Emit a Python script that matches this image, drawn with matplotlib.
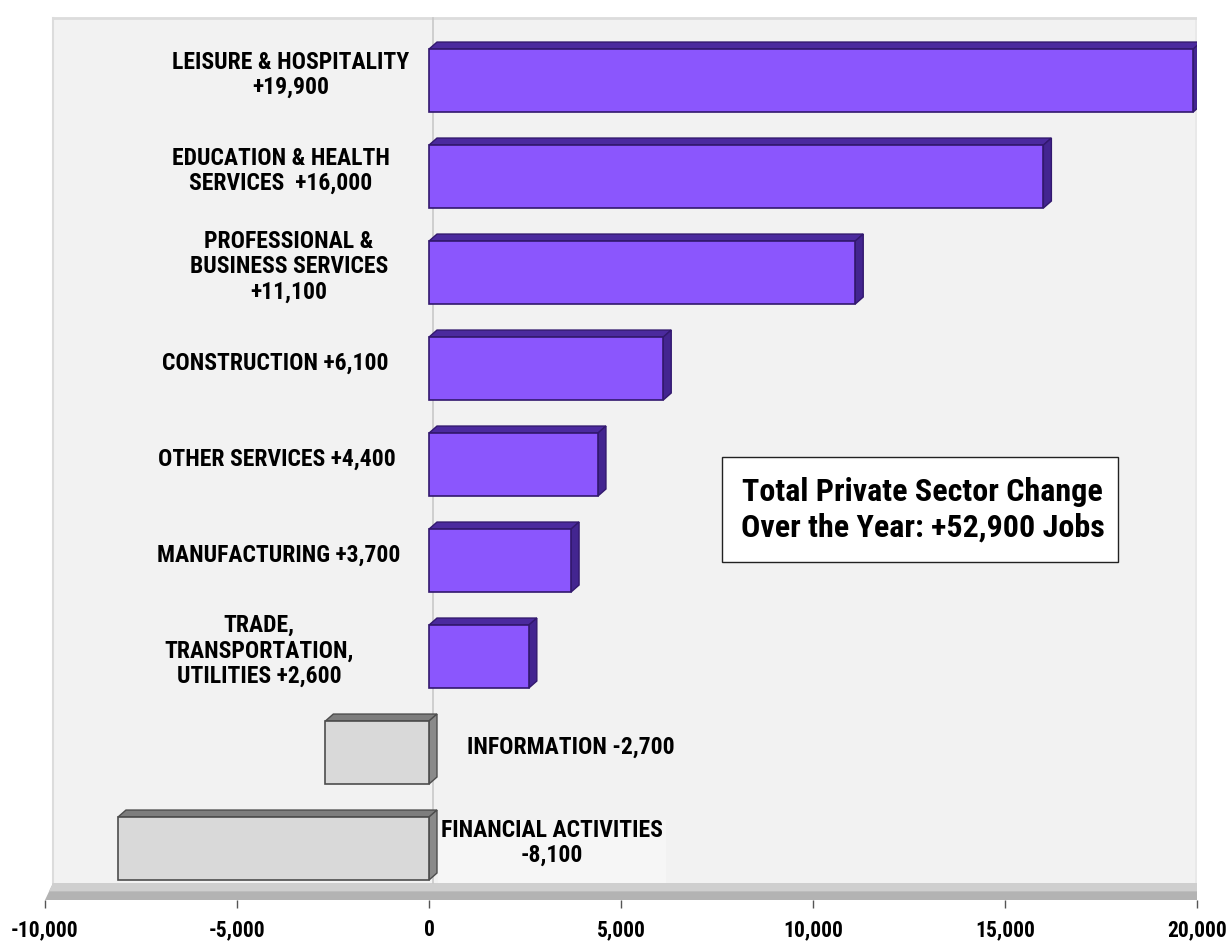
import matplotlib.pyplot as plt
from matplotlib import font_manager
from matplotlib.patches import Polygon, Rectangle

# pick a narrow bold sans that is installed
installed = {f.name for f in font_manager.fontManager.ttflist}
narrow = next(f for f in ['Liberation Sans Narrow', 'Arial Narrow', 'Roboto Condensed',
                          'Archivo Narrow', 'PT Sans Narrow', 'IBM Plex Sans Condensed',
                          'Open Sans Condensed', 'DejaVu Sans'] if f in installed)
plt.rcParams['font.family'] = [narrow, 'DejaVu Sans']
plt.rcParams['font.weight'] = 'bold'

# Over-the-year change in private sector jobs, by industry
categories = [
    'LEISURE & HOSPITALITY\n',
    'EDUCATION & HEALTH\nSERVICES  ',
    'PROFESSIONAL &\nBUSINESS SERVICES\n',
    'CONSTRUCTION ',
    'OTHER SERVICES ',
    'MANUFACTURING ',
    'TRADE,\nTRANSPORTATION,\nUTILITIES ',
    'INFORMATION ',
    'FINANCIAL ACTIVITIES\n',
]
changes = [19900, 16000, 11100, 6100, 4400, 3700, 2600, -2700, -8100]
total_change = 52900
x_ticks = [-10000, -5000, 0, 5000, 10000, 15000, 20000]

# layout, in data units (x: jobs, y: one unit per bar)
n = len(categories)
bar_h = 0.656
dx, dy = 208, 0.073
ymin, ymax = -0.536, 8.787
label_x = [-3600, -3860, -3650, -4010, -3960, -3910, -4430, 3700, 3200]

fig = plt.figure(figsize=(12.31, 9.46), dpi=100)
ax = fig.add_axes([45 / 1231, 46 / 946, 1152 / 1231, 895 / 946])
ax.set_xlim(-10000, 20000)
ax.set_ylim(ymin, ymax)
for s in ax.spines.values():
    s.set_visible(False)
ax.set_facecolor('white')

# back wall and floor of the 3-d plot area
floor_top = ymin + 17 / 96
wall_top = ymin + 882 / 96
ax.add_patch(Rectangle((-9790, floor_top), 30210, wall_top - floor_top,
                       facecolor='#f2f2f2', edgecolor='none', zorder=0))
ax.add_patch(Rectangle((19950, floor_top), 470, wall_top - floor_top,
                       facecolor='#e9e9e9', edgecolor='none', zorder=0))
ax.plot([-9790, 20420], [wall_top, wall_top], color='#dcdcdc', lw=2, zorder=0)
ax.plot([-9790, -9790], [floor_top, wall_top], color='#dcdcdc', lw=1.5, zorder=0)
ax.add_patch(Polygon([(-10000, ymin), (20000, ymin), (20420, floor_top), (-9790, floor_top)],
                     closed=True, facecolor='#b3b3b3', edgecolor='none', zorder=1))
ax.add_patch(Polygon([(-9900, ymin + 0.09), (20200, ymin + 0.09), (20420, floor_top), (-9790, floor_top)],
                     closed=True, facecolor='#cfcfcf', edgecolor='none', zorder=1))
ax.plot([110, 110], [floor_top, wall_top], color='#c8c8c8', lw=1.2, zorder=1)

for i, v in enumerate(changes):
    y = n - 1 - i
    x0, x1 = min(0, v), max(0, v)
    if v > 0:
        front, top, side, edge = '#8b56fd', '#4b2a9e', '#432590', '#32186e'
    else:
        front, top, side, edge = '#d9d9d9', '#7d7d7d', '#8a8a8a', '#4d4d4d'
    yb, yt = y - bar_h / 2, y + bar_h / 2
    ax.add_patch(Polygon([(x0, yt), (x1, yt), (x1 + dx, yt + dy), (x0 + dx, yt + dy)],
                         closed=True, facecolor=top, edgecolor=edge, lw=1, zorder=3))
    ax.add_patch(Polygon([(x1, yb), (x1 + dx, yb + dy), (x1 + dx, yt + dy), (x1, yt)],
                         closed=True, facecolor=side, edgecolor=edge, lw=1, zorder=3))
    ax.add_patch(Rectangle((x0, yb), x1 - x0, bar_h, facecolor=front,
                           edgecolor=edge, lw=1.2, zorder=4))

    label = categories[i] + f'{v:+,}'
    if v < 0 and '\n' in categories[i]:
        ax.add_patch(Rectangle((230, y - 0.36), 5930, 0.66, facecolor='#f6f6f6',
                               edgecolor='none', zorder=2))
    ax.text(label_x[i], y + 0.06, label, ha='center', va='center', multialignment='center',
            fontsize=17, fontweight='bold', linespacing=1.12, zorder=5)

# summary box
ax.add_patch(Rectangle((7620, 2.98), 10310, 1.094, facecolor='white',
                       edgecolor='#222222', lw=1, zorder=5))
ax.text(12860, 3.527, f'Total Private Sector Change\nOver the Year: {total_change:+,} Jobs',
        ha='center', va='center', fontsize=23, fontweight='bold', linespacing=1.25, zorder=6)

ax.set_yticks([])
ax.set_xticks(x_ticks)
ax.set_xticklabels([f'{t:,}' for t in x_ticks])
ax.tick_params(axis='x', length=6, width=1, color='#555555', pad=8, labelsize=15.5)
for lbl in ax.get_xticklabels():
    lbl.set_fontweight('bold')

fig.savefig('out.png', dpi=100)
